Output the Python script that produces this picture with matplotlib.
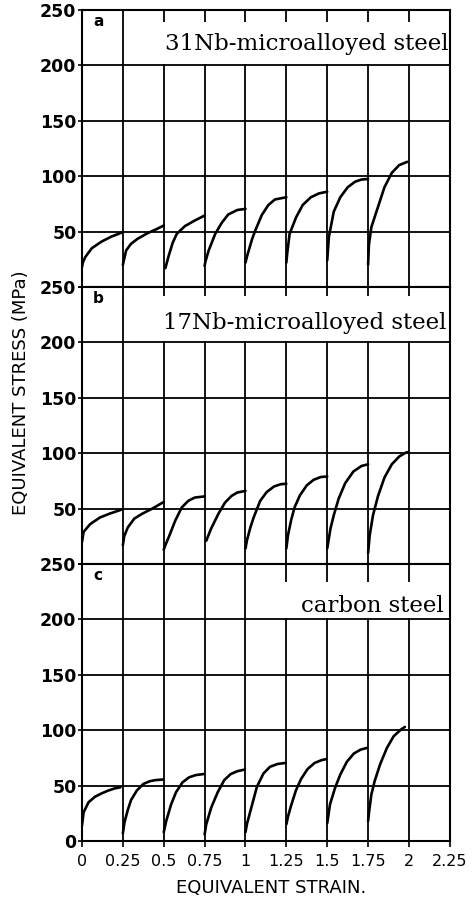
import matplotlib
matplotlib.use('Agg')
import matplotlib.pyplot as plt
from matplotlib.patches import Rectangle

# =============================================================
# Data (equivalent stress in MPa)
# each pass: strain offsets from the start of the pass + stress
# =============================================================

pass_start = [0.0, 0.25, 0.5, 0.75, 1.0, 1.25, 1.5, 1.75]

# a) 31Nb-microalloyed steel
a_off = [
    [0, 0.005, 0.02, 0.06, 0.12, 0.18, 0.25],
    [0, 0.006, 0.02, 0.05, 0.09, 0.15, 0.21, 0.25],
    [0.01, 0.03, 0.055, 0.08, 0.13, 0.19, 0.25],
    [0, 0.005, 0.025, 0.065, 0.105, 0.145, 0.2, 0.25],
    [0, 0.01, 0.02, 0.04, 0.06, 0.10, 0.14, 0.18, 0.25],
    [0, 0.005, 0.02, 0.06, 0.10, 0.15, 0.20, 0.25],
    [0, 0.01, 0.04, 0.08, 0.125, 0.17, 0.21, 0.25],
    [0, 0.005, 0.02, 0.06, 0.10, 0.145, 0.19, 0.24],
]
a_stress = [
    [18, 22, 27, 35, 41, 45.5, 49.5],
    [20, 24, 33, 39, 43.5, 48.5, 52.5, 55.5],
    [17, 28, 40, 48, 55, 60, 64.5],
    [19, 23, 33, 48, 58, 65.5, 69.5, 70.5],
    [22, 28, 33, 43, 51, 65, 74, 79, 81],
    [22, 30, 48, 63, 74, 81, 84.5, 86],
    [24, 45, 68, 81, 90, 95, 97, 97.5],
    [20, 38, 54, 72, 90, 103, 110, 113],
]

# b) 17Nb-microalloyed steel
b_off = [
    [0, 0.01, 0.05, 0.11, 0.17, 0.25],
    [0, 0.008, 0.03, 0.07, 0.12, 0.18, 0.25],
    [0, 0.01, 0.03, 0.07, 0.11, 0.15, 0.19, 0.25],
    [0.01, 0.04, 0.085, 0.125, 0.165, 0.2, 0.25],
    [0, 0.01, 0.03, 0.05, 0.09, 0.13, 0.175, 0.215, 0.25],
    [0, 0.01, 0.03, 0.05, 0.083, 0.125, 0.167, 0.21, 0.25],
    [0, 0.02, 0.04, 0.07, 0.11, 0.16, 0.21, 0.25],
    [0, 0.01, 0.03, 0.06, 0.10, 0.145, 0.19, 0.23, 0.245],
]
b_stress = [
    [20, 29, 36, 42, 45.5, 49.5],
    [17, 25, 33, 41, 45.5, 50, 56],
    [13, 17, 24, 39, 51, 57, 60, 61],
    [21, 32, 45.5, 55.5, 61.5, 64.5, 66],
    [14, 22, 33, 42, 57, 65, 70, 72, 72.5],
    [14, 26, 40, 51, 62, 71, 76, 78.5, 79],
    [14, 32, 44, 59, 73, 83.5, 88.5, 90],
    [10, 26, 44, 61, 78, 90, 97, 100.5, 101],
]

# c) carbon steel
c_off = [
    [0, 0.005, 0.01, 0.04, 0.08, 0.12, 0.16, 0.2, 0.235],
    [0, 0.01, 0.03, 0.05, 0.085, 0.125, 0.165, 0.2, 0.245],
    [0, 0.015, 0.045, 0.075, 0.115, 0.155, 0.195, 0.245],
    [0, 0.01, 0.04, 0.08, 0.12, 0.16, 0.2, 0.245],
    [0, 0.01, 0.03, 0.05, 0.07, 0.11, 0.15, 0.195, 0.245],
    [0, 0.01, 0.027, 0.058, 0.09, 0.13, 0.173, 0.215, 0.245],
    [0, 0.017, 0.048, 0.08, 0.12, 0.163, 0.204, 0.242],
    [0, 0.005, 0.02, 0.04, 0.073, 0.115, 0.156, 0.2, 0.225],
]
c_stress = [
    [14, 20, 26, 35, 40, 43, 45.5, 47.5, 48.5],
    [7, 17, 28, 37, 45.5, 51.5, 54, 55, 55.5],
    [8, 18, 33, 44, 53, 57.5, 59.5, 60.5],
    [6, 15, 30, 44, 55, 60.5, 63, 64.5],
    [8, 16, 27, 38, 49, 61, 67, 69.5, 70.5],
    [15, 22, 31, 45.5, 56, 65, 70.5, 73, 74],
    [16, 33, 48, 60, 71.5, 79, 82.5, 84],
    [18, 25, 42, 54, 69, 84, 94.5, 100.5, 103],
]

x_ticks = [0, 0.25, 0.5, 0.75, 1, 1.25, 1.5, 1.75, 2, 2.25]
x_labels = ['0', '0.25', '0.5', '0.75', '1', '1.25', '1.5', '1.75', '2', '2.25']
y_ticks = [0, 50, 100, 150, 200, 250]

panels = [
    ('a', '31Nb-microalloyed steel', a_off, a_stress),
    ('b', '17Nb-microalloyed steel', b_off, b_stress),
    ('c', 'carbon steel', c_off, c_stress),
]

# label box: (x0, x1, y top of box, text x, text y)
boxes = [
    (0.27, 2.245, 239, 2.24, 219),
    (0.27, 2.245, 242, 2.23, 218),
    (1.15, 2.245, 234, 2.21, 212),
]

# =============================================================
# Figure
# =============================================================
fig = plt.figure(figsize=(4.74, 9.05), dpi=100)
bottoms = [0.6829, 0.3768, 0.0707]

for i, (tag, name, offs, stresses) in enumerate(panels):
    ax = fig.add_axes([0.173, bottoms[i], 0.776, 0.306])
    for x0, off, s in zip(pass_start, offs, stresses):
        ax.plot([x0 + o for o in off], s, color='k', lw=1.9,
                solid_joinstyle='round', solid_capstyle='round', zorder=3)

    ax.set_xlim(0, 2.25)
    ax.set_ylim(0, 250)
    ax.set_xticks(x_ticks)
    ax.set_yticks(y_ticks)
    ax.set_axisbelow(True)
    ax.grid(True, color='k', lw=1.3)

    if i < 2:
        ax.set_yticklabels([''] + [str(v) for v in y_ticks[1:]])
        ax.tick_params(axis='x', bottom=False, labelbottom=False)
    else:
        ax.set_yticklabels([str(v) for v in y_ticks])
        ax.set_xticklabels(x_labels)
        ax.tick_params(axis='x', length=4, width=1.2, pad=5,
                       labelsize=11.5)

    ax.tick_params(axis='y', length=3, width=1.2, pad=1)
    for lab in ax.get_yticklabels():
        lab.set_fontsize(12.5)
        lab.set_fontweight('bold')

    for sp in ax.spines.values():
        sp.set_linewidth(1.5)

    bx0, bx1, btop, tx, ty = boxes[i]
    ax.add_patch(Rectangle((bx0, 201.5), bx1 - bx0, btop - 201.5,
                           facecolor='white', edgecolor='none', zorder=1.5))
    ax.text(tx, ty, name, ha='right', va='center', family='DejaVu Serif',
            fontsize=16.5, zorder=4)
    ax.text(0.03, 0.985, tag, transform=ax.transAxes, ha='left', va='top',
            fontsize=11, fontweight='bold', zorder=4)

fig.text(0.045, 1 - 393 / 905, 'EQUIVALENT STRESS (MPa)', rotation=90,
         ha='center', va='center', fontsize=13)
fig.text(271 / 474, 1 - 888 / 905, 'EQUIVALENT STRAIN.', ha='center',
         va='center', fontsize=13)

fig.savefig('out.png', dpi=100)
